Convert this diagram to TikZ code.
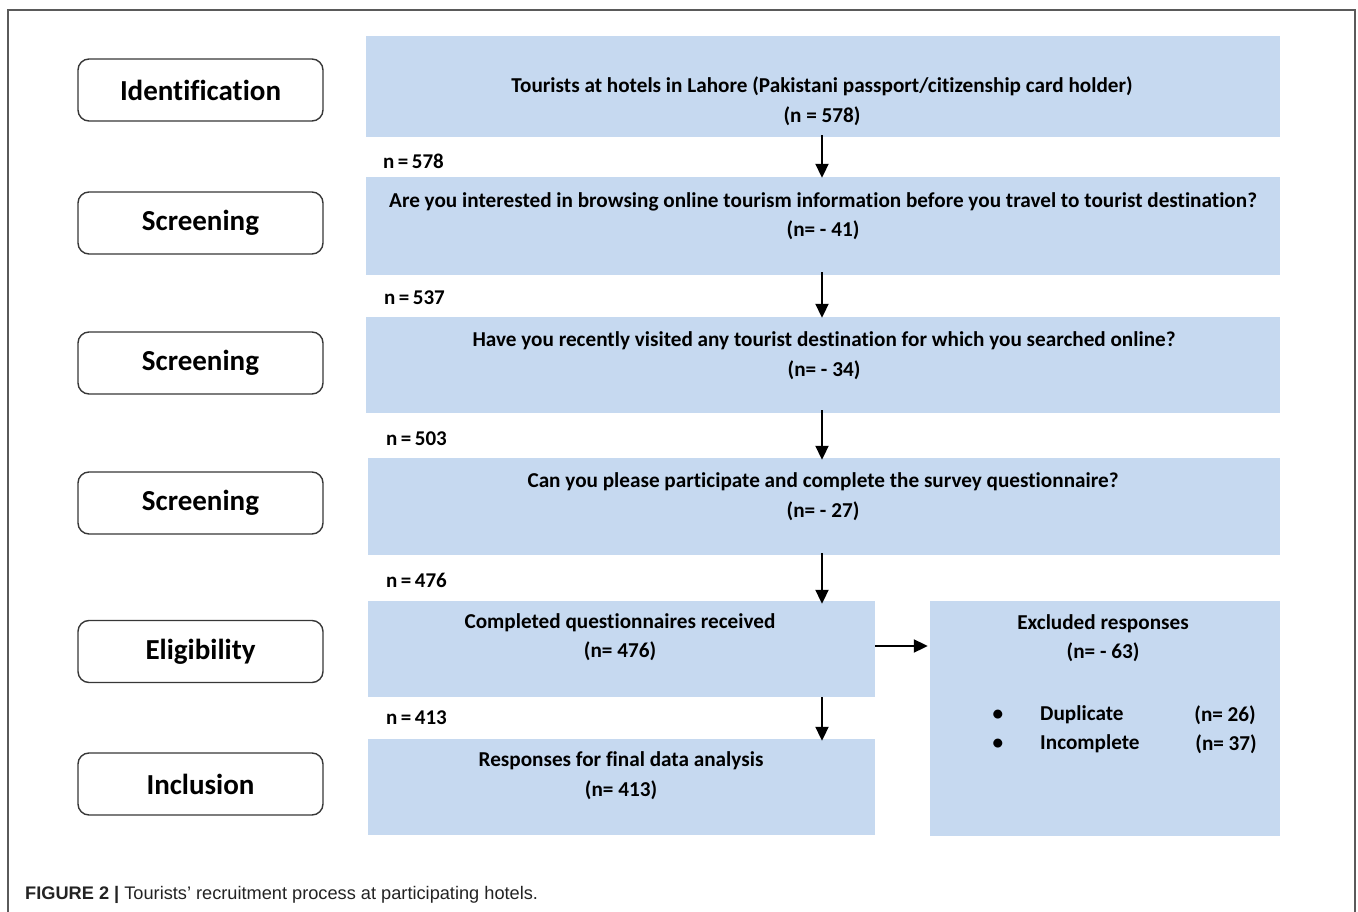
\documentclass[tikz,border=0pt]{standalone}
\usepackage{fontspec}
\setmainfont{Carlito}[Ligatures=NoCommon]
\newfontfamily\capfont{Liberation Sans}
\usetikzlibrary{arrows.meta}
\definecolor{boxblue}{RGB}{198,217,240}
\definecolor{framegray}{RGB}{90,90,90}
\definecolor{edgegray}{RGB}{55,55,55}
\definecolor{captext}{RGB}{35,35,35}
\tikzset{
  stagebox/.style={draw=edgegray, line width=1.4pt, rounded corners=11pt, fill=white,
    minimum width=245pt, minimum height=62pt, font=\fontsize{29}{32}\selectfont\bfseries},
  bluebox/.style={fill=boxblue, draw=none, inner sep=0pt},
  boxtext/.style={align=center, font=\fontsize{21.2}{29.5}\selectfont\bfseries, inner sep=0pt},
  nlabel/.style={anchor=west, font=\fontsize{21}{24}\selectfont\bfseries, inner sep=0pt},
  arr/.style={line width=2pt, -{Triangle[length=14pt,width=13pt]}},
}
\begin{document}
\begin{tikzpicture}[x=1pt,y=-1pt]
\useasboundingbox (0,0) rectangle (1358,912);
% outer frame
\draw[framegray, line width=1.3pt] (8,914) -- (8,10) -- (1355,10) -- (1355,914);

% stage boxes
\node[stagebox] (s1) at (200.5,90) {Identification};
\node[stagebox] (s2) at (200.5,223) {Screening};
\node[stagebox] (s3) at (200.5,363) {Screening};
\node[stagebox] (s4) at (200.5,503) {Screening};
\node[stagebox] (s5) at (200.5,651.5) {Eligibility};
\node[stagebox] (s6) at (200.5,784) {Inclusion};

% blue boxes
\node[bluebox, minimum width=914pt, minimum height=101pt] (b1) at (823,86.5) {};
\node[bluebox, minimum width=914pt, minimum height=98pt] (b2) at (823,226) {};
\node[bluebox, minimum width=914pt, minimum height=96pt] (b3) at (823,365) {};
\node[bluebox, minimum width=912pt, minimum height=97pt] (b4) at (824,506.5) {};
\node[bluebox, minimum width=507pt, minimum height=96pt] (b5) at (621.5,649) {};
\node[bluebox, minimum width=507pt, minimum height=96pt] (b6) at (621.5,787) {};
\node[bluebox, minimum width=350pt, minimum height=235pt] (b7) at (1105,718.5) {};

% box texts
\node[boxtext] (t1) at (822,101) {Tourists at hotels in Lahore (Pakistani passport/citizenship card holder)\\(n = 578)};
\node[boxtext] (t2) at (823,216) {Are you interested in browsing online tourism information before you travel to tourist destination?\\(n= - 41)};
\node[boxtext] (t3) at (824,355.5) {Have you recently visited any tourist destination for which you searched online?\\(n= - 34)};
\node[boxtext] (t4) at (823,496.5) {Can you please participate and complete the survey questionnaire?\\(n= - 27)};
\node[boxtext] (t5) at (620,637) {Completed questionnaires received\\(n= 476)};
\node[boxtext] (t6) at (621,775.5) {Responses for final data analysis\\(n= 413)};
\node[boxtext] (t7) at (1103,638) {Excluded responses\\(n= - 63)};

% bullet list
\node[boxtext, anchor=center] (d0) at (998,715) {•};
\node[boxtext, anchor=west] (d1) at (1040,715) {Duplicate};
\node[boxtext, anchor=east] (d2) at (1256,715) {(n= 26)};
\node[boxtext, anchor=center] (i0) at (998,744) {•};
\node[boxtext, anchor=west] (i1) at (1040,744) {Incomplete};
\node[boxtext, anchor=east] (i2) at (1257,744) {(n= 37)};

% n labels
\node[nlabel] (n1) at (383,161) {n\,=\,578};
\node[nlabel] (n2) at (384,298) {n\,=\,537};
\node[nlabel] (n3) at (386,439) {n\,=\,503};
\node[nlabel] (n4) at (386,580) {n\,=\,476};
\node[nlabel] (n5) at (386,718) {n\,=\,413};

% arrows
\coordinate (ax) at (822,0);
\coordinate (ay) at (0,646);
\draw[arr] ([yshift=2pt]b1.south -| ax) -- ([yshift=-1pt]b2.north -| ax);
\draw[arr] ([yshift=3pt]b2.south -| ax) -- ([yshift=-1pt]b3.north -| ax);
\draw[arr] ([yshift=3pt]b3.south -| ax) -- ([yshift=-2pt]b4.north -| ax);
\draw[arr] ([yshift=2pt]b4.south -| ax) -- ([yshift=-3pt]b5.north -| ax);
\draw[arr] (b5.south -| ax) -- ([yshift=-2pt]b6.north -| ax);
\draw[arr] (b5.east |- ay) -- ([xshift=-2pt]b7.west |- ay);

% caption
\node[anchor=west, inner sep=0pt, text=captext, font=\capfont\fontsize{18.2}{20}\selectfont] (cap) at (25,895)
  {\textbf{FIGURE 2 |} Tourists’ recruitment process at participating hotels.};
\end{tikzpicture}
\end{document}
